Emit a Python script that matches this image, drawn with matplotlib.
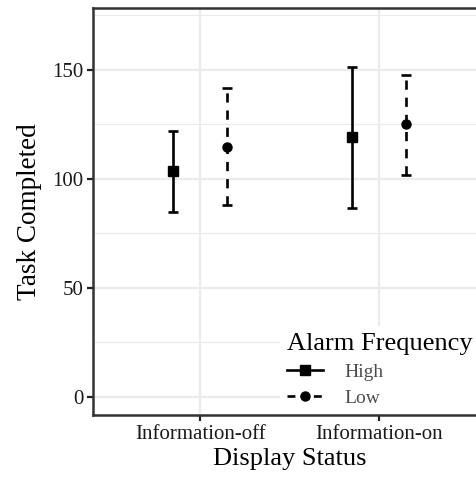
import matplotlib.pyplot as plt
from matplotlib.ticker import MultipleLocator
from matplotlib.lines import Line2D

plt.rcParams['font.family'] = ['Liberation Serif', 'DejaVu Serif']

display_status = ['Information-off', 'Information-on']
alarm_levels = ['High', 'Low']

# mean and error-bar limits
high_mean = [103.7, 119.3]
high_lower = [84.9, 86.7]
high_upper = [122.0, 151.4]

low_mean = [114.7, 125.2]
low_lower = [88.1, 101.8]
low_upper = [141.7, 147.7]

dodge = 0.15

fig = plt.figure(figsize=(4.76, 4.8), dpi=100)
ax = fig.add_axes([93 / 476, 65 / 480, 393 / 476, 407 / 480])

x = [1, 2]
series = [
    ('High', high_mean, high_lower, high_upper, 's', 7, '-', -dodge),
    ('Low', low_mean, low_lower, low_upper, 'o', 6.5, (0, (3.5, 3)), dodge),
]
for label, mean, lo, hi, marker, ms, ls, off in series:
    xs = [v + off for v in x]
    yerr = [[m - l for m, l in zip(mean, lo)], [h - m for m, h in zip(mean, hi)]]
    eb = ax.errorbar(xs, mean, yerr=yerr, fmt=marker, color='black', ms=ms,
                     elinewidth=1.9, capsize=3.3, capthick=1.9, label=label,
                     zorder=3)
    eb[2][0].set_linestyle(ls)

ax.set_xlim(0.4, 2.6)
ax.set_ylim(-8.3, 178.4)
ax.set_xticks(x)
ax.set_xticklabels(display_status)
ax.yaxis.set_major_locator(MultipleLocator(50))
ax.yaxis.set_minor_locator(MultipleLocator(25))

ax.grid(which='major', color='#ebebeb', linewidth=1.6, zorder=0)
ax.grid(which='minor', axis='y', color='#ebebeb', linewidth=0.8, zorder=0)
ax.set_axisbelow(True)
ax.tick_params(which='minor', left=False)
ax.tick_params(which='major', length=4, width=1.6, color='#222222',
               labelsize=15, labelcolor='#1a1a1a', pad=3)

for s in ax.spines.values():
    s.set_color('#333333')
    s.set_linewidth(1.8)

ax.set_xlabel('Display Status', fontsize=19, labelpad=3)
ax.set_ylabel('Task Completed', fontsize=19.5, labelpad=7)

handles = [
    Line2D([], [], color='black', lw=1.9, ls='-', marker='s', ms=7),
    Line2D([], [], color='black', lw=1.9, ls=(0, (3, 2)), marker='o', ms=6.5),
]
leg = ax.legend(handles, alarm_levels, title='Alarm Frequency',
                loc='upper left', bbox_to_anchor=(270 / 476, 1 - 316 / 480),
                bbox_transform=fig.transFigure, frameon=True, fancybox=False,
                facecolor='white', edgecolor='none', framealpha=1,
                fontsize=14, title_fontsize=19, handlelength=1.9,
                handletextpad=1.1, labelspacing=0.45, borderpad=0.35,
                alignment='left')
leg.set_zorder(2.4)
for t in leg.get_texts():
    t.set_color('#4d4d4d')

fig.savefig('out.png', dpi=100)
